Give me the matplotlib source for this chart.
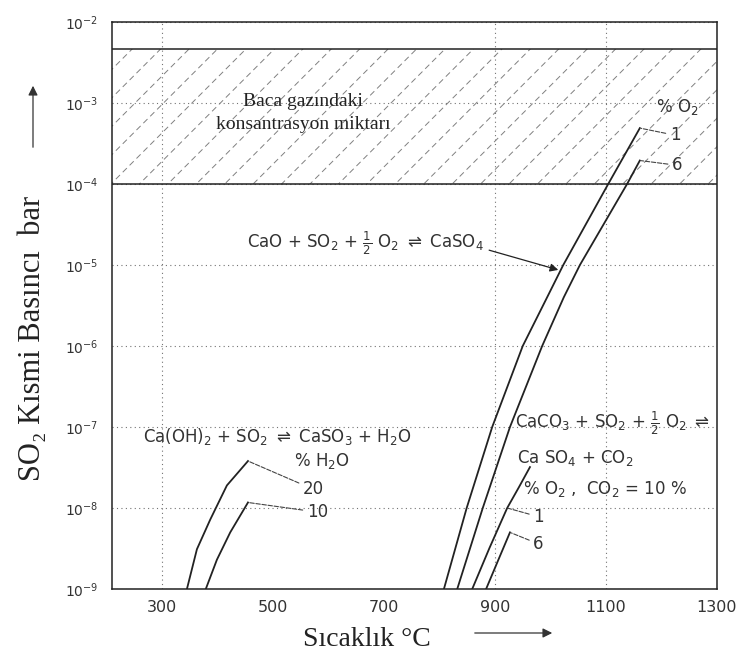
import numpy as np
import matplotlib.pyplot as plt
import matplotlib as mpl

# ======================================================
# Plot settings
# ======================================================
mpl.rcParams['font.family'] = ['DejaVu Sans']
mpl.rcParams['mathtext.fontset'] = 'dejavusans'

SERIF = ['Liberation Serif', 'DejaVu Serif']
INK = '#222222'

# ======================================================
# Data
# ======================================================
# CaO + SO2 + 1/2 O2 <=> CaSO4
CAO_O2_1_T = [808, 849, 895, 950, 994, 1023, 1104, 1161]
CAO_O2_1_P = [1e-9, 1e-8, 1e-7, 1e-6, 4.0e-6, 1e-5, 1e-4, 4.9e-4]
CAO_O2_6_T = [832, 878, 927, 985, 1024, 1053, 1138, 1161]
CAO_O2_6_P = [1e-9, 1e-8, 1e-7, 1e-6, 4.0e-6, 1e-5, 1e-4, 1.95e-4]

# CaCO3 + SO2 + 1/2 O2 <=> CaSO4 + CO2  (CO2 = 10 %)
CACO3_O2_1_T = [859, 890, 922, 943, 963]
CACO3_O2_1_P = [1e-9, 3.2e-9, 1e-8, 1.8e-8, 3.2e-8]
CACO3_O2_6_T = [884, 905, 927]
CACO3_O2_6_P = [1e-9, 2.2e-9, 5.0e-9]

# Ca(OH)2 + SO2 <=> CaSO3 + H2O
CAOH_H2O_20_T = [345, 363, 387, 417, 455]
CAOH_H2O_20_P = [1e-9, 3.1e-9, 7.2e-9, 1.9e-8, 3.8e-8]
CAOH_H2O_10_T = [379, 399, 423, 455]
CAOH_H2O_10_P = [1e-9, 2.3e-9, 5.0e-9, 1.17e-8]

# flue gas concentration band
BAND_LOW = 1e-4
BAND_HIGH = 4.6e-3

X_TICKS = [300, 500, 700, 900, 1100, 1300]
X_GRID = [300, 900, 1100]
Y_TICKS = [1e-9, 1e-8, 1e-7, 1e-6, 1e-5, 1e-4, 1e-3, 1e-2]

# ======================================================
# Figure
# ======================================================
W, H = 736, 663
fig = plt.figure(figsize=(W / 100, H / 100), dpi=100)
ax = fig.add_axes([112 / W, 74 / H, 605 / W, 567 / H])

ax.set_yscale('log')
ax.set_xlim(210, 1300)
ax.set_ylim(1e-9, 1e-2)
ax.set_xticks(X_TICKS)
ax.set_yticks(Y_TICKS)
ax.minorticks_off()
ax.tick_params(length=0, colors='#333333')
ax.tick_params(axis='x', labelsize=11.5, pad=8)
ax.tick_params(axis='y', labelsize=10, pad=10)

for s in ax.spines.values():
    s.set_linewidth(1.1)
    s.set_color(INK)

# dotted grid
ax.yaxis.grid(True, ls=(0, (1, 3)), color='0.45', lw=0.8)
for t in X_GRID:
    ax.axvline(t, ls=(0, (1, 3)), color='0.45', lw=0.8, zorder=0)

# hatched band
band = ax.axhspan(BAND_LOW, BAND_HIGH, facecolor='none', lw=0)
for c in np.arange(-1.0, 1.0, 0.047):
    ln, = ax.plot([c, c + 0.937], [0, 1], transform=ax.transAxes,
                  color='0.5', lw=0.7, ls=(0, (6, 4)))
    ln.set_clip_path(band)
ax.axhline(BAND_LOW, color=INK, lw=1.1)
ax.axhline(BAND_HIGH, color=INK, lw=1.1)

ax.text(554, 10 ** -3.12, "Baca gazındaki\nkonsantrasyon miktarı",
        ha='center', va='center', family=SERIF, fontsize=14,
        linespacing=1.45, color=INK)

# ======================================================
# Curves
# ======================================================
lw = 1.3
ax.plot(CAO_O2_1_T, CAO_O2_1_P, color=INK, lw=lw)
ax.plot(CAO_O2_6_T, CAO_O2_6_P, color=INK, lw=lw)
ax.plot(CACO3_O2_1_T, CACO3_O2_1_P, color=INK, lw=lw)
ax.plot(CACO3_O2_6_T, CACO3_O2_6_P, color=INK, lw=lw)
ax.plot(CAOH_H2O_20_T, CAOH_H2O_20_P, color=INK, lw=lw)
ax.plot(CAOH_H2O_10_T, CAOH_H2O_10_P, color=INK, lw=lw)

# ======================================================
# Labels on the curves
# ======================================================
chem = dict(fontsize=12, color='#333333')
leader = dict(arrowstyle='-', color='#444444', lw=0.8, ls=(0, (4, 1.5)),
              shrinkA=1, shrinkB=1)

# CaO reaction
ax.annotate(r"CaO + SO$_2$ + $\frac{1}{2}$ O$_2$ $\rightleftharpoons$ CaSO$_4$",
            xy=(1014, 8.7e-6), xytext=(453, 10 ** -4.73),
            ha='left', va='center',
            arrowprops=dict(arrowstyle='-|>', color=INK, lw=0.9,
                            shrinkA=2, shrinkB=0,
                            relpos=(1.0, 0.3)),
            **chem)
ax.text(1228, 8.9e-4, r"% O$_2$", ha='center', va='center', **chem)
ax.annotate("1", xy=(CAO_O2_1_T[-1], CAO_O2_1_P[-1]), xytext=(1215, 4e-4),
            ha='left', va='center', arrowprops=leader, **chem)
ax.annotate("6", xy=(CAO_O2_6_T[-1], CAO_O2_6_P[-1]), xytext=(1219, 1.7e-4),
            ha='left', va='center', arrowprops=leader, **chem)

# CaCO3 reaction
ax.text(936, 1.12e-7, r"CaCO$_3$ + SO$_2$ + $\frac{1}{2}$ O$_2$ $\rightleftharpoons$",
        ha='left', va='center', **chem)
ax.text(940, 4.2e-8, r"Ca SO$_4$ + CO$_2$", ha='left', va='center', **chem)
ax.text(950, 1.7e-8, r"% O$_2$ ,  CO$_2$ = 10 %", ha='left', va='center', **chem)
ax.annotate("1", xy=(CACO3_O2_1_T[2], CACO3_O2_1_P[2]), xytext=(969, 7.8e-9),
            ha='left', va='center', arrowprops=leader, **chem)
ax.annotate("6", xy=(CACO3_O2_6_T[-1], CACO3_O2_6_P[-1]), xytext=(969, 3.6e-9),
            ha='left', va='center', arrowprops=leader, **chem)

# Ca(OH)2 reaction
ax.text(266, 10 ** -7.12, r"Ca(OH)$_2$ + SO$_2$ $\rightleftharpoons$ CaSO$_3$ + H$_2$O",
        ha='left', va='center', **chem)
ax.text(588, 10 ** -7.42, r"% H$_2$O", ha='center', va='center', **chem)
ax.annotate("20", xy=(CAOH_H2O_20_T[-1], CAOH_H2O_20_P[-1]), xytext=(554, 1.7e-8),
            ha='left', va='center', arrowprops=leader, **chem)
ax.annotate("10", xy=(CAOH_H2O_10_T[-1], CAOH_H2O_10_P[-1]), xytext=(561, 8.9e-9),
            ha='left', va='center', arrowprops=leader, **chem)

# ======================================================
# Axis titles with arrows
# ======================================================
fig.text(367 / W, 1 - 640 / H, "Sıcaklık °C", family=SERIF, fontsize=20,
         ha='center', va='center', color=INK)
fig.text(33 / W, 1 - 338 / H, "SO₂ Kısmi Basıncı  bar", family=SERIF,
         fontsize=22, rotation=90, ha='center', va='center', color=INK)

arrow = dict(arrowstyle='-|>', color='#333333', lw=0.9, mutation_scale=14)
ax.annotate("", xy=(555 / W, 1 - 633 / H), xytext=(472 / W, 1 - 633 / H),
            xycoords='figure fraction', textcoords='figure fraction',
            arrowprops=arrow)
ax.annotate("", xy=(33 / W, 1 - 83 / H), xytext=(33 / W, 1 - 150 / H),
            xycoords='figure fraction', textcoords='figure fraction',
            arrowprops=arrow)

plt.savefig("out.png", dpi=100)
plt.close()
